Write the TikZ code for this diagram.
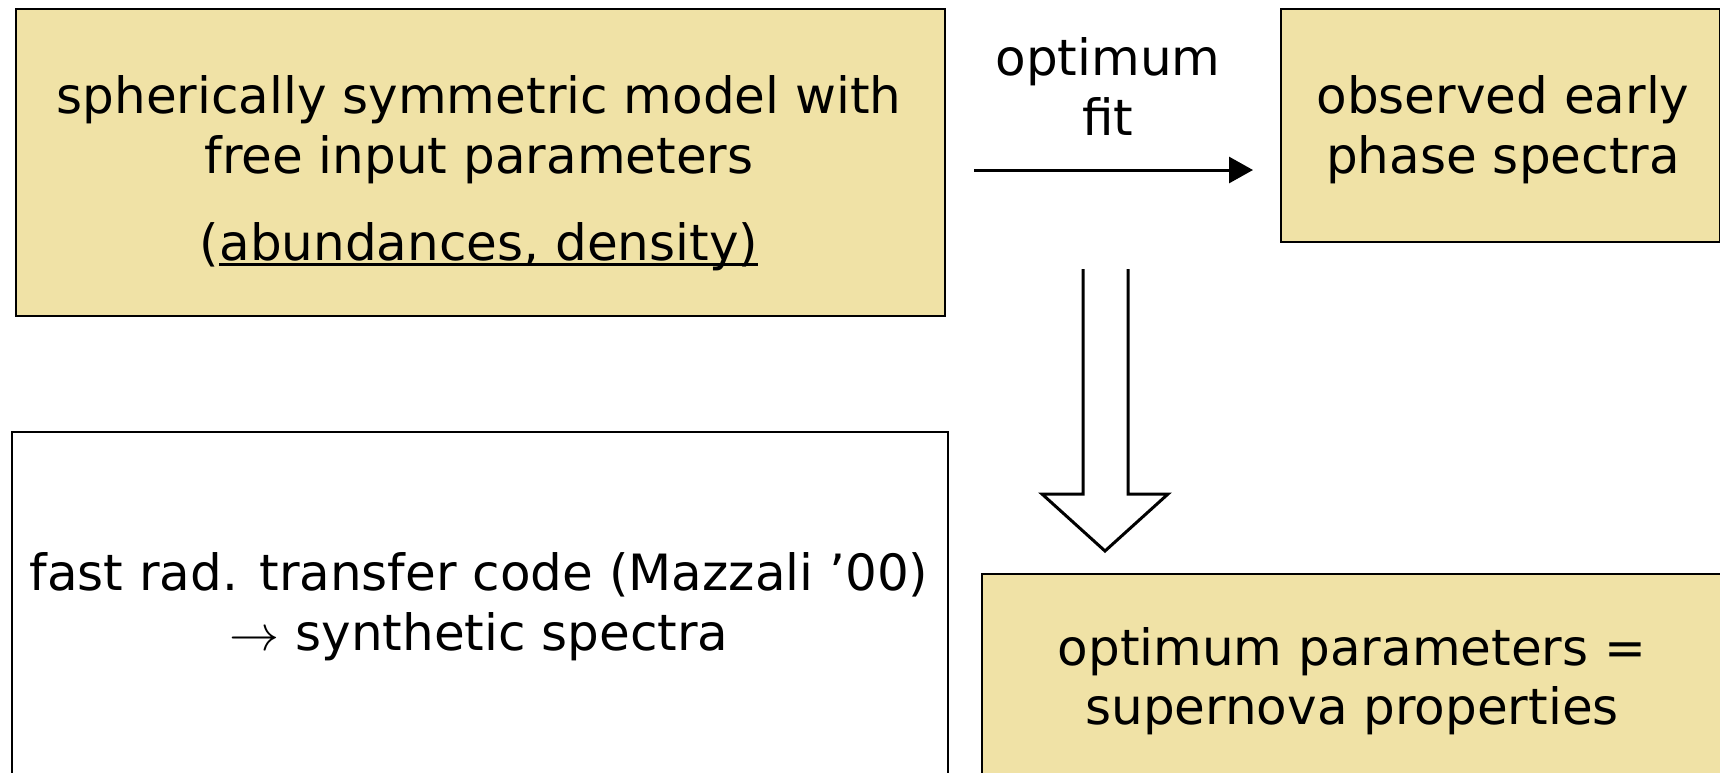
\RequirePackage{fix-cm}
\documentclass[tikz,border=0pt]{standalone}
\usepackage{fontspec}
\setmainfont{DejaVu Sans}
\usetikzlibrary{arrows.meta}
\newcommand\myul[1]{\setbox0\hbox{#1}\rlap{\rule[-5.5pt]{\wd0}{3pt}}\box0}
\definecolor{khaki}{RGB}{240,226,166}
\tikzset{
  kbox/.style={draw=black, line width=2pt, fill=khaki, anchor=north west, inner sep=0pt},
  wbox/.style={draw=black, line width=2pt, fill=white, anchor=north west, inner sep=0pt},
  txt/.style={anchor=base, inner sep=0pt, font=\fontsize{50}{60}\selectfont},
  fitarrow/.style={line width=3pt, -{Triangle[length=24pt,width=26pt]}},
  hollow/.style={line width=3pt, line join=miter}
}
\begin{document}
\begin{tikzpicture}[x=1pt,y=-1pt]
\useasboundingbox (0,0) rectangle (1720,772);
% boxes
\node[kbox, minimum width=929pt, minimum height=307pt] (b1) at (15,8) {};
\node[kbox, minimum width=439pt, minimum height=233pt] (b2) at (1280,8) {};
\node[wbox, minimum width=936pt, minimum height=380pt] (b3) at (11,431) {};
\node[kbox, minimum width=780pt, minimum height=240pt] (b4) at (981,573) {};
% texts
\node[txt] (t11) at (479,113) {spherically symmetric model with};
\node[txt] (t12) at (479,173) {free input parameters};
\node[txt] (t13) at (479,260) {(\myul{abundances, density)}};
\node[txt] (t21) at (1503,113) {observed early};
\node[txt] (t22) at (1503,173) {phase spectra};
\node[txt] (t31) at (479,590) {fast rad. transfer code (Mazzali ’00)};
\node[txt] (t32) at (479,650) {$\rightarrow$ synthetic spectra};
\node[txt] (t41) at (1352,665) {optimum parameters =};
\node[txt] (t42) at (1352,724) {supernova properties};
\node[txt] (l1) at (1108,75) {optimum};
\node[txt] (l2) at (1108,135) {fit};
% fit arrow
\coordinate (fa) at (974,170);
\coordinate (fb) at (1253,170);
\draw[fitarrow] (fa) -- (fb);
% hollow arrow
\coordinate (ht) at (1105,269);
\coordinate (hp) at (1105,551);
\draw[hollow] ([xshift=-22pt]ht) -- ([xshift=-22pt]ht |- 0,494) -- ([xshift=-63pt]ht |- 0,494)
  -- (hp) -- ([xshift=63pt]ht |- 0,494) -- ([xshift=23pt]ht |- 0,494) -- ([xshift=23pt]ht);
\end{tikzpicture}
\end{document}
